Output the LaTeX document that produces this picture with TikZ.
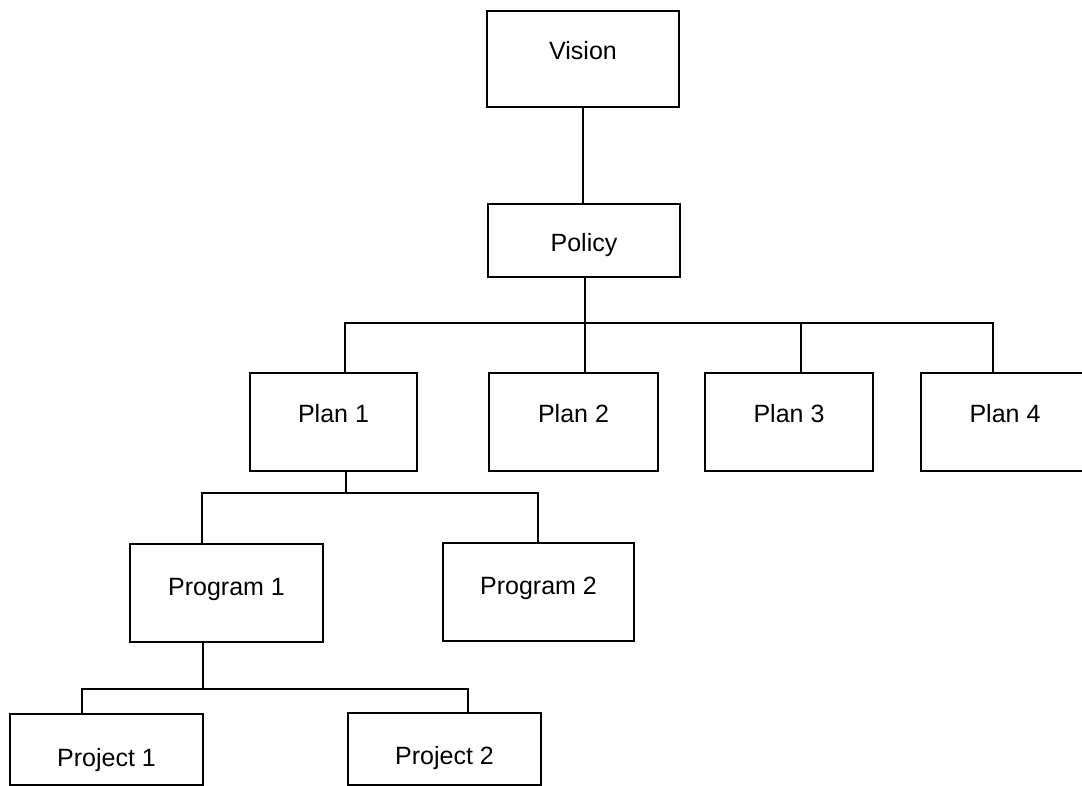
\documentclass[tikz,border=0pt]{standalone}
\usepackage{fontspec}
\setmainfont{Liberation Sans}
% one box of the hierarchy: name, left, top, right, bottom, text baseline, text
\newcommand\orgunit[7]{%
  \node[orgbox, minimum width={(#4-#2)*1pt}, minimum height={(#5-#3)*1pt}]
    (#1) at ({(#2+#4)/2},{(#3+#5)/2}) {};
  \node[orglabel] (#1-text) at ({(#2+#4)/2},#6) {#7};
}
\begin{document}
\begin{tikzpicture}[x=1pt,y=-1pt,
  orgbox/.style={draw=black, line width=1.5pt, rectangle, inner sep=0pt, outer sep=0pt},
  orglabel/.style={font=\fontsize{25}{30}\selectfont, inner sep=0pt, anchor=base},
  link/.style={draw=black, line width=1.3pt, line join=miter}]
\clip (0,0) rectangle (1082,786);
\fill[white] (0,0) rectangle (1082,786);

% boxes
\orgunit{vision}{487}{11}{679}{107}{60}{Vision}
\orgunit{policy}{488}{204}{680}{277}{252}{Policy}
\orgunit{plan1}{250}{373}{417}{471}{422}{Plan 1}
\orgunit{plan2}{489}{373}{658}{471}{422}{Plan 2}
\orgunit{plan3}{705}{373}{873}{471}{422}{Plan 3}
\orgunit{plan4}{921}{373}{1089}{471}{422}{Plan 4}
\orgunit{program1}{130}{544}{323}{642}{595}{Program 1}
\orgunit{program2}{443}{543}{634}{641}{594}{Program 2}
\orgunit{project1}{10}{714}{203}{785}{766}{Project 1}
\orgunit{project2}{348}{713}{541}{785}{764}{Project 2}

% junction points
\coordinate (tap-v) at (583,0);
\coordinate (busA-l) at (345,323);
\coordinate (busA-m) at (585,323);
\coordinate (busA-3) at (801,323);
\coordinate (busA-r) at (993,323);
\coordinate (busB-l) at (202,493);
\coordinate (busB-m) at (346,493);
\coordinate (busB-r) at (538,493);
\coordinate (busC-l) at (82,689);
\coordinate (busC-m) at (203,689);
\coordinate (busC-r) at (468,689);

% vision -> policy
\draw[link] (vision.south -| tap-v) -- (policy.north -| tap-v);

% policy -> plans
\draw[link] (policy.south -| busA-m) -- (busA-m);
\draw[link] (plan1.north -| busA-l) -- (busA-l) -- (busA-r) -- (plan4.north -| busA-r);
\draw[link] (busA-m) -- (plan2.north -| busA-m);
\draw[link] (busA-3) -- (plan3.north -| busA-3);

% plan 1 -> programs
\draw[link] (plan1.south -| busB-m) -- (busB-m);
\draw[link] (program1.north -| busB-l) -- (busB-l) -- (busB-r) -- (program2.north -| busB-r);

% program 1 -> projects
\draw[link] (program1.south -| busC-m) -- (busC-m);
\draw[link] (project1.north -| busC-l) -- (busC-l) -- (busC-r) -- (project2.north -| busC-r);
\end{tikzpicture}
\end{document}
